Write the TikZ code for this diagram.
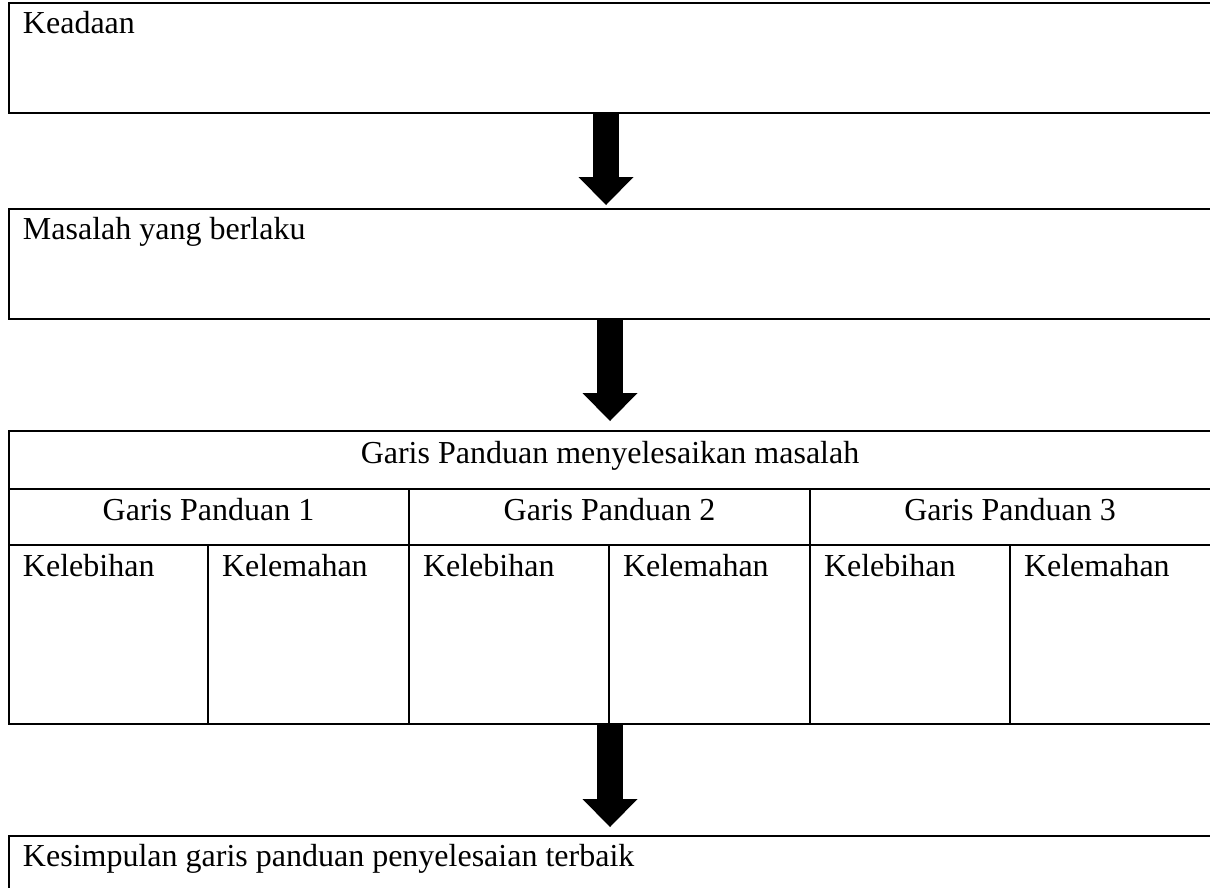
\documentclass[tikz,border=0pt]{standalone}
\usepackage{fontspec}
\setmainfont{Liberation Serif}
\usetikzlibrary{arrows.meta,calc}
\begin{document}
\begin{tikzpicture}[x=1pt,y=-1pt,
  frame/.style={draw=black,line width=2.5pt,line join=miter},
  grid/.style={draw=black,line width=1.6pt},
  txt/.style={inner sep=0pt,outer sep=0pt,anchor=base west,font=\fontsize{32}{38}\selectfont},
  ctxt/.style={inner sep=0pt,outer sep=0pt,anchor=base,font=\fontsize{32}{38}\selectfont},
  bigarrow/.style={draw=black,line width=26pt,line cap=butt,
    -{Triangle[width=55pt,length=28pt,line width=0pt]}}]
\useasboundingbox (0,0) rectangle (1210,887);
\clip (0,0) rectangle (1210,887);
% boxes (open to the right)
\node[frame,rectangle,inner sep=0pt,outer sep=0pt,anchor=north west,minimum width=1240pt,minimum height=110pt] (b1) at (9,3) {};
\node[frame,rectangle,inner sep=0pt,outer sep=0pt,anchor=north west,minimum width=1240pt,minimum height=110pt] (b2) at (9,209) {};
\node[grid,rectangle,inner sep=0pt,outer sep=0pt,anchor=north west,minimum width=1202pt,minimum height=293pt] (tb) at (9,431) {};
\node[frame,rectangle,inner sep=0pt,outer sep=0pt,anchor=north west,minimum width=1240pt,minimum height=120pt] (b4) at (9,836) {};
% table inner lines
\draw[grid] (9,489) -- (1211,489);
\draw[grid] (9,545) -- (1211,545);
\draw[grid] (409,489) -- (409,724);
\draw[grid] (810,489) -- (810,724);
\draw[grid] (208,545) -- (208,724);
\draw[grid] (609,545) -- (609,724);
\draw[grid] (1010,545) -- (1010,724);
% texts
\node[txt] (t1) at (23,33) {Keadaan};
\node[txt] (t2) at (23,239) {Masalah yang berlaku};
\node[ctxt] (th) at (610,463) {Garis Panduan menyelesaikan masalah};
\node[ctxt] (g1) at (208.5,520) {Garis Panduan 1};
\node[ctxt] (g2) at (609.5,520) {Garis Panduan 2};
\node[ctxt] (g3) at (1010,520) {Garis Panduan 3};
\node[txt] (k1) at (23,576) {Kelebihan};
\node[txt] (w1) at (222,576) {Kelemahan};
\node[txt] (k2) at (423,576) {Kelebihan};
\node[txt] (w2) at (623,576) {Kelemahan};
\node[txt] (k3) at (824,576) {Kelebihan};
\node[txt] (w3) at (1024,576) {Kelemahan};
\node[txt] (t4) at (23,866) {Kesimpulan garis panduan penyelesaian terbaik};
% arrows
\coordinate (xa) at (606,0);
\coordinate (xb) at (610,0);
\draw[bigarrow,shorten >=4pt] (b1.south -| xa) -- (b2.north -| xa);
\draw[bigarrow,shorten >=10pt] (b2.south -| xb) -- (tb.north -| xb);
\draw[bigarrow,shorten >=9pt] (tb.south -| xb) -- (b4.north -| xb);
\end{tikzpicture}
\end{document}
